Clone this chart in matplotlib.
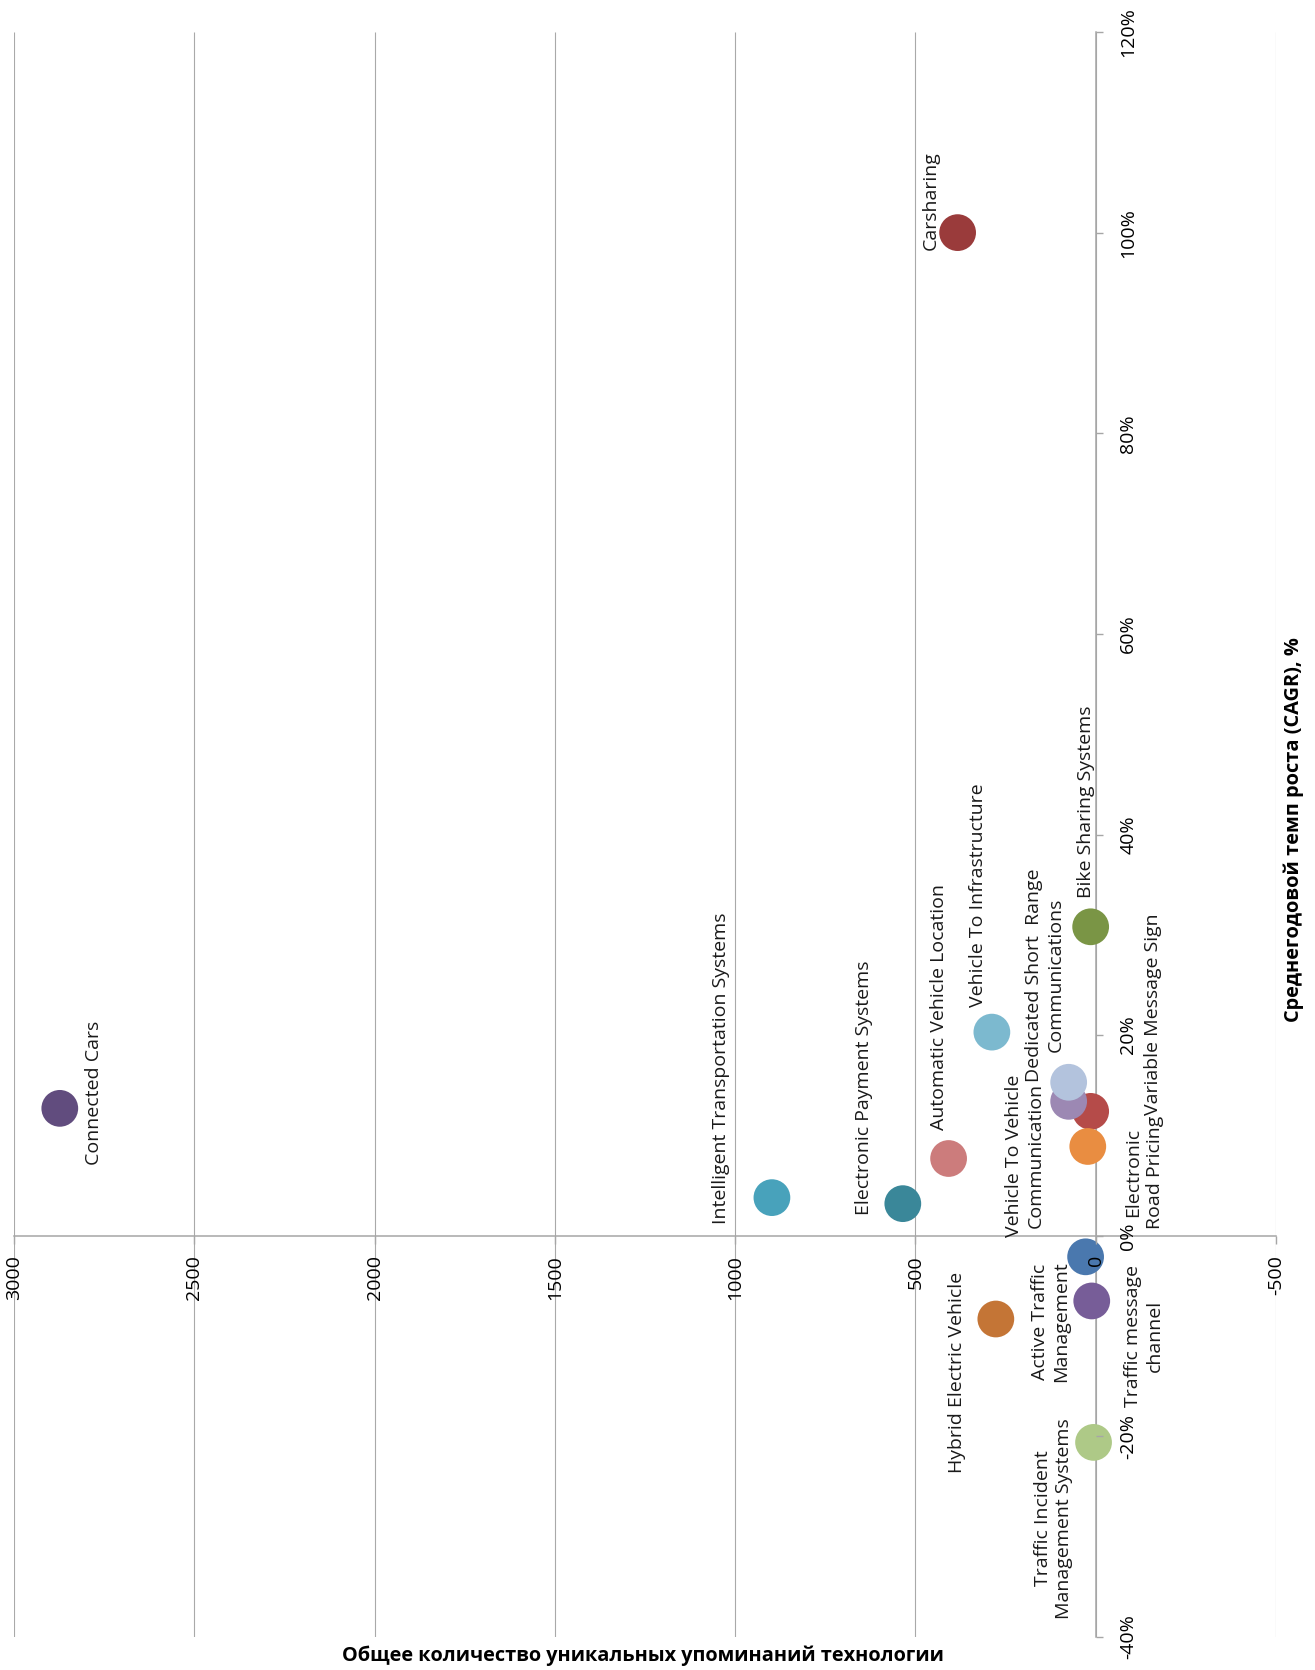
import matplotlib
matplotlib.use("Agg")
import matplotlib.pyplot as plt
from matplotlib.ticker import FuncFormatter

plt.rcParams['font.family'] = ['Open Sans', 'DejaVu Sans']
plt.rcParams['axes.unicode_minus'] = False

# data: mentions count and CAGR (%)
technologies = [
    "Connected Cars", "Carsharing", "Intelligent Transportation Systems",
    "Electronic Payment Systems", "Automatic Vehicle Location",
    "Vehicle To Infrastructure", "Bike Sharing Systems", "Variable Message Sign",
    "Electronic\nRoad Pricing", "Vehicle To Vehicle\nCommunication",
    "Dedicated Short  Range\nCommunications", "Active Traffic\nManagement",
    "Traffic message\nchannel", "Hybrid Electric Vehicle",
    "Traffic Incident\nManagement Systems",
]
mentions = [2873, 383, 898, 535, 408, 288, 14, 14, 22, 75, 75, 28, 11, 277, 6]
cagr = [12.7, 100.0, 3.8, 3.2, 7.7, 20.3, 30.8, 12.4, 8.9, 13.4, 15.3, -2.1, -6.5, -8.3, -20.6]
colors = ["#614c7e", "#9a3b3b", "#48a2bb", "#3a8799", "#cc7c7c",
          "#7cb9cf", "#7a9545", "#b54b49", "#e98d41", "#9c88b3",
          "#b3c3dd", "#4a78ae", "#775d98", "#c47536", "#aec987"]

x_ticks = [3000, 2500, 2000, 1500, 1000, 500, 0, -500]
y_ticks = [-40, -20, 0, 20, 40, 60, 80, 100, 120]

# label offsets from each point, in pixels
label_offsets = [(34, 15), (-27, 32), (-51, 129), (-39, 116), (-10, 152),
                 (-14, 137), (-5, 125), (62, 97), (56, -26), (-44, -54),
                 (-24, 107), (-35, -65), (52, -35), (-39, -53), (-40, -76)]

W, H = 1315, 1670
fig = plt.figure(figsize=(W / 100, H / 100), dpi=100)
ax = fig.add_axes([14 / W, 33 / H, 1262 / W, 1605 / H])

ax.set_xlim(3000, -500)
ax.set_ylim(-40, 120)

# vertical gridlines behind the bubbles
ax.vlines(x_ticks, -40, 120, colors="#a9a9a9", linewidth=0.8, zorder=1)

ax.scatter(mentions, cagr, s=700, c=colors, linewidths=0, zorder=3)

for name, mx, cy, (dx, dy) in zip(technologies, mentions, cagr, label_offsets):
    ax.annotate(name, (mx, cy), xytext=(dx, dy), textcoords="offset pixels",
                rotation=90, ha="center", va="center", multialignment="center",
                fontsize=14, color="#1a1a1a", zorder=5, linespacing=1.25)

# axes crossing at zero
for side in ["top", "left"]:
    ax.spines[side].set_visible(False)
ax.spines["bottom"].set_position(("data", 0))
ax.spines["right"].set_position(("data", 0))
for side in ["bottom", "right"]:
    ax.spines[side].set_color("#a6a6a6")
    ax.spines[side].set_linewidth(1.1)
    ax.spines[side].set_zorder(2)

ax.set_xticks(x_ticks)
ax.set_yticks(y_ticks)
ax.xaxis.set_major_formatter(FuncFormatter(lambda v, p: f"{v:.0f}"))
ax.yaxis.set_major_formatter(FuncFormatter(lambda v, p: f"{v:.0f}%"))
ax.yaxis.tick_right()
ax.tick_params(axis="x", direction="out", length=6, width=1, color="#a6a6a6",
               labelsize=14, labelrotation=90, pad=8)
ax.tick_params(axis="y", direction="out", length=5, width=1, color="#a6a6a6",
               labelsize=14, labelrotation=90, pad=12)
for lbl in ax.get_yticklabels():
    lbl.set_va("center")
ax.xaxis.set_zorder(4)
ax.yaxis.set_zorder(4)

fig.text(643 / W, (H - 1661) / H, "Общее количество уникальных упоминаний технологии",
         ha="center", va="baseline", fontsize=14.3, fontweight="bold")
fig.text(1294 / W, (H - 830) / H, "Среднегодовой темп роста (CAGR), %",
         ha="center", va="center", rotation=90, fontsize=14.4, fontweight="bold")

fig.savefig("out.png", dpi=100)
